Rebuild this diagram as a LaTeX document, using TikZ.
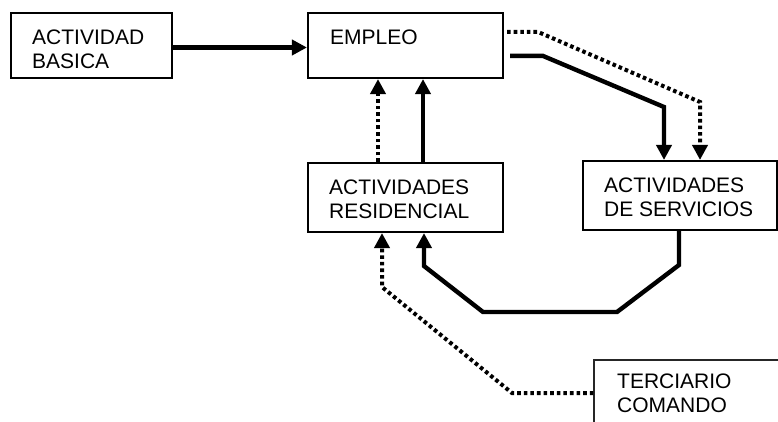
\documentclass[tikz,border=0pt]{standalone}
\usepackage{fontspec}
\setmainfont{Liberation Sans}
\usetikzlibrary{arrows.meta,calc}
\newcommand\twol[2]{\begin{tabular}[t]{@{}l@{}}#1\\#2\end{tabular}}
\begin{document}
\begin{tikzpicture}[x=1pt,y=-1pt,
  box/.style={draw, line width=2.1pt, inner sep=0pt},
  thinbox/.style={draw=black!85, line width=1.3pt, inner sep=0pt},
  txt/.style={anchor=base west, inner sep=0pt, font=\fontsize{21}{24}\selectfont},
  arr/.style={line width=4.4pt, -{Triangle[length=15pt,width=15pt]}},
  dots/.style={arr, line width=4pt, dash pattern=on 3.6pt off 3pt}]
\path[use as bounding box] (0,0) rectangle (778,422);
% boxes
\node[box, minimum width=161pt, minimum height=65pt] (basica) at (91.5,45.5) {};
\node[box, minimum width=195pt, minimum height=65pt] (empleo) at (405.5,45.5) {};
\node[box, minimum width=195pt, minimum height=69pt] (resid) at (405.5,197.5) {};
\node[box, minimum width=194pt, minimum height=69pt] (serv) at (680,195.5) {};
\begin{scope}
\clip (0,0) rectangle (778,422);
\node[thinbox, minimum width=220pt, minimum height=100pt] (terc) at (704,410) {};
\end{scope}
% texts
\node[txt] (tbasica) at (32,45) {\twol{ACTIVIDAD}{BASICA}};
\node[txt] (templeo) at (330,45) {EMPLEO};
\node[txt] (tresid) at (329,194) {\twol{ACTIVIDADES}{RESIDENCIAL}};
\node[txt] (tserv) at (604,193) {\twol{ACTIVIDADES}{DE SERVICIOS}};
\node[txt] (tterc) at (617,388) {\twol{TERCIARIO}{COMANDO}};
% connectors
\draw[arr] ([yshift=-2pt]basica.east) -- ([yshift=-2pt]empleo.west);
\draw[arr] ($(empleo.north east)+(6,44)$) -- ++(33,0) -- (664,107) -- (664,107 |- serv.north);
\draw[dots] ($(empleo.north east)+(3,20)$) -- ++(31,0) -- (700,102) -- (700,102 |- serv.north);
\draw[dots] (378,0 |- resid.north) -- (378,0 |- empleo.south);
\draw[arr] (423,0 |- resid.north) -- (423,0 |- empleo.south);
\draw[arr] (679,0 |- serv.south) -- (679,265) -- (617,312) -- (483,312) -- (424,266) -- (424,0 |- resid.south);
\draw[dots] (terc.west |- 0,393) -- (512,393) -- (382,287) -- (382,0 |- resid.south);
\end{tikzpicture}
\end{document}
